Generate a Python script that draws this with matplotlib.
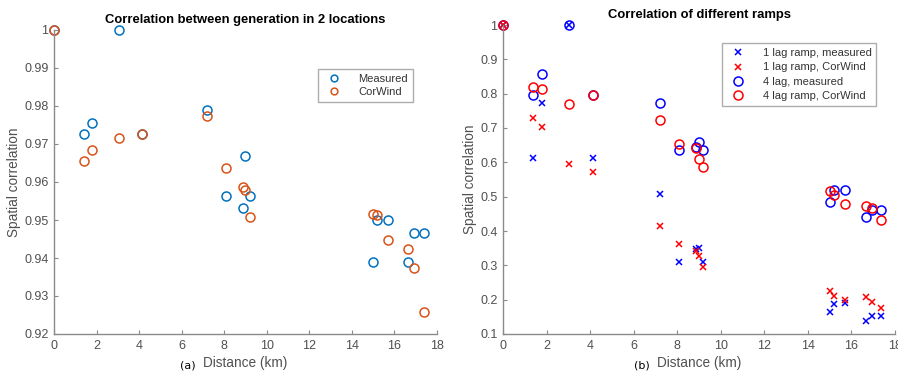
import matplotlib
matplotlib.use("Agg")
import matplotlib.pyplot as plt

plt.rcParams['font.family'] = ['Liberation Sans', 'DejaVu Sans']

# distances between the two locations (km)
distance = [0, 1.39, 1.78, 3.04, 4.12, 7.21, 8.10, 8.88, 8.98, 9.20,
            15.01, 15.20, 15.70, 16.66, 16.94, 17.38]

# panel (a): generation correlation
gen_measured = [1.0, 0.9726, 0.9755, 1.0, 0.9726, 0.9790, 0.9563, 0.9531, 0.9669, 0.9563,
                0.9389, 0.9499, 0.9500, 0.9390, 0.9465, 0.9465]
gen_corwind = [1.0, 0.9655, 0.9685, 0.9716, 0.9726, 0.9775, 0.9636, 0.9588, 0.9580, 0.9507,
               0.9517, 0.9514, 0.9448, 0.9423, 0.9374, 0.9258]

# panel (b): ramp correlation
lag1_measured = [1.0, 0.614, 0.773, 1.0, 0.614, 0.507, 0.310, 0.347, 0.350, 0.311,
                 0.165, 0.187, 0.190, 0.138, 0.151, 0.151]
lag1_corwind = [1.0, 0.730, 0.703, 0.594, 0.571, 0.415, 0.362, 0.341, 0.326, 0.296,
                0.224, 0.210, 0.198, 0.207, 0.193, 0.177]
lag4_measured = [1.0, 0.7955, 0.858, 1.0, 0.797, 0.774, 0.636, 0.644, 0.658, 0.636,
                 0.485, 0.520, 0.518, 0.440, 0.461, 0.461]
lag4_corwind = [1.0, 0.818, 0.813, 0.771, 0.797, 0.723, 0.653, 0.641, 0.610, 0.587,
                0.516, 0.506, 0.478, 0.473, 0.466, 0.433]

xticks = [0, 2, 4, 6, 8, 10, 12, 14, 16, 18]
yticks_a = [0.92, 0.93, 0.94, 0.95, 0.96, 0.97, 0.98, 0.99, 1]
ytick_labels_a = ['0.92', '0.93', '0.94', '0.95', '0.96', '0.97', '0.98', '0.99', '1']
yticks_b = [0.1, 0.2, 0.3, 0.4, 0.5, 0.6, 0.7, 0.8, 0.9, 1]
ytick_labels_b = ['0.1', '0.2', '0.3', '0.4', '0.5', '0.6', '0.7', '0.8', '0.9', '1']

W, H = 898, 373
fig = plt.figure(figsize=(W / 100, H / 100), dpi=100)
ax1 = fig.add_axes([54 / W, 1 - 334 / H, (437 - 54) / W, (334 - 30) / H])
ax2 = fig.add_axes([503 / W, 1 - 334 / H, (895 - 503) / W, (334 - 25) / H])

TXT = '#505050'
SPN = '#8a8a8a'
FS = 9
LFS = 8


def style(ax):
    for s in ['top', 'right']:
        ax.spines[s].set_visible(False)
    for s in ['left', 'bottom']:
        ax.spines[s].set_color(SPN)
        ax.spines[s].set_linewidth(1.0)
    ax.tick_params(direction='in', length=3, color=SPN, labelcolor=TXT, labelsize=FS, pad=4)
    ax.set_xlim(0, 18)
    ax.set_xticks(xticks)
    ax.set_ylabel('Spatial correlation', color=TXT, fontsize=FS + 0.8, labelpad=2)
    ax.set_xlabel('Distance (km)', color=TXT, fontsize=FS + 0.8, labelpad=3)


ms = 6.5
ax1.plot(distance, gen_measured, 'o', mfc='none', mec='#0072BD', ms=ms, mew=1.1,
         label='Measured', clip_on=False)
ax1.plot(distance, gen_corwind, 'o', mfc='none', mec='#D95319', ms=ms, mew=1.1,
         label='CorWind', clip_on=False)
style(ax1)
ax1.set_ylim(0.92, 1.0)
ax1.set_yticks(yticks_a)
ax1.set_yticklabels(ytick_labels_a)
ax1.set_title('Correlation between generation in 2 locations', fontsize=9.4,
              fontweight='bold', pad=5)
leg1 = ax1.legend(loc='upper left', bbox_to_anchor=(264 / 383, 1 - 39 / 304), fontsize=LFS,
                  frameon=True, fancybox=False, edgecolor='#999999', markerscale=0.75,
                  borderaxespad=0, handletextpad=1.2, borderpad=0.45, labelspacing=0.3,
                  handlelength=2.0)
for t in leg1.get_texts():
    t.set_color('#333333')
fig.text(188 / W, 1 - 365 / H, '(a)', fontsize=8, color='black', va='center', ha='center',
         family=['Liberation Sans Narrow', 'DejaVu Sans'])

ax2.plot(distance, lag1_measured, 'x', color='blue', ms=4.5, mew=1.1,
         label='1 lag ramp, measured', clip_on=False)
ax2.plot(distance, lag1_corwind, 'x', color='red', ms=4.5, mew=1.1,
         label='1 lag ramp, CorWind', clip_on=False)
ax2.plot(distance, lag4_measured, 'o', mfc='none', mec='blue', ms=ms, mew=1.1,
         label='4 lag, measured', clip_on=False)
ax2.plot(distance, lag4_corwind, 'o', mfc='none', mec='red', ms=ms, mew=1.1,
         label='4 lag ramp, CorWind', clip_on=False)
style(ax2)
ax2.set_ylim(0.1, 1.0)
ax2.set_yticks(yticks_b)
ax2.set_yticklabels(ytick_labels_b)
ax2.set_title('Correlation of different ramps', fontsize=9.4, fontweight='bold', pad=5)
leg2 = ax2.legend(loc='upper left', bbox_to_anchor=(219 / 392, 1 - 18 / 309), fontsize=LFS,
                  frameon=True, fancybox=False, edgecolor='#999999',
                  borderaxespad=0, handletextpad=1.2, borderpad=0.45, labelspacing=0.4,
                  handlelength=2.0)
for t in leg2.get_texts():
    t.set_color('#333333')
fig.text(642 / W, 1 - 365 / H, '(b)', fontsize=8, color='black', va='center', ha='center',
         family=['Liberation Sans Narrow', 'DejaVu Sans'])

fig.savefig('out.png', dpi=100)
